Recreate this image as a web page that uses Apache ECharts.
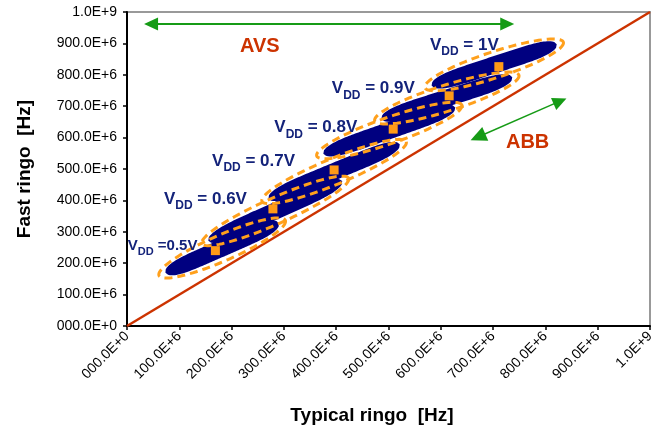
<!DOCTYPE html>
<html><head><meta charset="utf-8">
<script src="https://cdn.jsdelivr.net/npm/echarts@6/dist/echarts.min.js"></script>
<style>html,body{margin:0;padding:0;background:#fff}#c{width:661px;height:431px}</style>
</head><body><div id="c"></div>
<script>
// ---- data ----
const vddLevels = ['0.5V', '0.6V', '0.7V', '0.8V', '0.9V', '1V'];
// orange squares: cluster centres [typical, fast] in Hz
const clusterCenters = [[169e6, 240e6], [279e6, 373e6], [396e6, 497e6], [509e6, 627e6], [616e6, 733e6], [711e6, 826e6]];
// lower-left and upper-right ends of each measured cloud
const streakStart = [[77e6, 172e6], [159e6, 274e6], [274e6, 408e6], [379e6, 551e6], [490e6, 662e6], [586e6, 768e6]];
const streakEnd = [[287e6, 325e6], [408e6, 459e6], [518e6, 576e6], [624e6, 694e6], [733e6, 790e6], [818e6, 895e6]];
// identity reference line
const diagonal = [[0, 0], [1e9, 1e9]];
// axis tick labels
const tickLabels = ['000.0E+0', '100.0E+6', '200.0E+6', '300.0E+6', '400.0E+6', '500.0E+6', '600.0E+6', '700.0E+6', '800.0E+6', '900.0E+6', '1.0E+9'];

// ---- annotation placement (data coordinates) ----
const vddLabelAt = [[68e6, 255e6], [150e6, 404e6], [242e6, 526e6], [361e6, 632e6], [471e6, 757e6], [645e6, 895e6]];
const avsArrow = [[46e6, 962e6], [727e6, 962e6]];
const abbArrow = [[671e6, 602e6], [828e6, 716e6]];
const textNotes = [{ name: 'AVS', value: [254e6, 889e6] }, { name: 'ABB', value: [766e6, 586e6] }];

const FONT = "'Liberation Sans', Arial, sans-serif";
const NAVY = '#000080';
const ORANGE = '#FFA01C';
const RED = '#CC3300';
const GREEN = '#169B16';
const LABEL = '#14237A';

const streakRows = streakStart.map((s, i) => [s[0], s[1], streakEnd[i][0], streakEnd[i][1]]);

function frame(api) {
  const p1 = api.coord([api.value(0), api.value(1)]);
  const p2 = api.coord([api.value(2), api.value(3)]);
  const dx = p2[0] - p1[0], dy = p2[1] - p1[1];
  const L = Math.hypot(dx, dy);
  const ux = dx / L, uy = dy / L;
  return { cx: (p1[0] + p2[0]) / 2, cy: (p1[1] + p2[1]) / 2, ux, uy, nx: -uy, ny: ux, L };
}

function renderStreak(params, api) {
  const f = frame(api);
  const a = f.L / 2 + 2, H = 8.5, N = 80;
  const top = [], bot = [];
  for (let i = 0; i <= N; i++) {
    const s = -1 + 2 * i / N;
    const h = H * Math.sqrt(Math.max(0, 1 - Math.pow(Math.abs(s), 5)));
    const bx = f.cx + f.ux * a * s, by = f.cy + f.uy * a * s;
    top.push([bx + f.nx * h, by + f.ny * h]);
    bot.unshift([bx - f.nx * h, by - f.ny * h]);
  }
  return { type: 'polygon', shape: { points: top.concat(bot) }, style: { fill: NAVY } };
}

function renderEllipse(params, api) {
  const f = frame(api);
  const a = f.L / 2 + 9, b = 13, N = 100;
  const pts = [];
  for (let i = 0; i < N; i++) {
    const t = 2 * Math.PI * i / N;
    const la = a * Math.cos(t), lb = b * Math.sin(t);
    pts.push([f.cx + f.ux * la + f.nx * lb, f.cy + f.uy * la + f.ny * lb]);
  }
  return { type: 'polygon', shape: { points: pts }, style: { fill: 'none', stroke: ORANGE, lineWidth: 3, lineDash: [8, 5] } };
}

function vddText(level, i) {
  if (i === 0) return '{w|V}{t|DD}{w| =' + level + '}';
  return '{v|V}{s|DD}{v| = ' + level + '}';
}

const axisCommon = {
  type: 'value', min: 0, max: 1e9, interval: 1e8,
  axisLine: { show: true, lineStyle: { color: '#000', width: 2 } },
  axisTick: { show: true, length: 4, lineStyle: { color: '#000', width: 1.5 } },
  splitLine: { show: false },
  nameLocation: 'middle',
};

const chart = echarts.init(document.getElementById('c'), null, { renderer: 'canvas' });
chart.setOption({
  animation: false,
  backgroundColor: '#fff',
  grid: { left: 127, right: 11, top: 12, bottom: 105, show: true, borderColor: '#999', borderWidth: 2, containLabel: false, outerBoundsMode: 'none' },
  xAxis: Object.assign({}, axisCommon, {
    name: 'Typical ringo  [Hz]',
    nameGap: 80,
    nameTextStyle: { fontFamily: FONT, fontWeight: 'bold', fontSize: 19, color: '#000', padding: [0, 33, 0, 0] },
    axisLabel: { rotate: 45, margin: 8, fontFamily: FONT, fontSize: 14, color: '#000', formatter: v => tickLabels[Math.round(v / 1e8)] }
  }),
  yAxis: Object.assign({}, axisCommon, {
    name: 'Fast ringo  [Hz]',
    nameGap: 93,
    nameTextStyle: { fontFamily: FONT, fontWeight: 'bold', fontSize: 19, color: '#000' },
    axisLabel: { margin: 10, fontFamily: FONT, fontSize: 14, color: '#000', formatter: v => tickLabels[Math.round(v / 1e8)] }
  }),
  series: [
    {
      type: 'line', data: diagonal, symbol: 'none', z: 1,
      lineStyle: { color: RED, width: 2.5 },
      markLine: {
        silent: true, animation: false,
        symbol: ['triangle', 'triangle'], symbolSize: [13, 14],
        label: { show: false },
        lineStyle: { color: GREEN, width: 2, type: 'solid' },
        emphasis: { disabled: true },
        data: [
          [{ coord: avsArrow[0] }, { coord: avsArrow[1] }],
          [{ coord: abbArrow[0], lineStyle: { width: 1.5, color: GREEN }, symbolSize: [15, 16] }, { coord: abbArrow[1] }]
        ]
      }
    },
    {
      type: 'custom', name: 'clouds', z: 2, silent: true,
      data: streakRows, encode: { x: [0, 2], y: [1, 3] },
      renderItem: renderStreak
    },
    {
      type: 'custom', name: 'ellipses', z: 3, silent: true,
      data: streakRows, encode: { x: [0, 2], y: [1, 3] },
      renderItem: renderEllipse
    },
    {
      type: 'scatter', name: 'centres', z: 4, silent: true,
      data: clusterCenters, symbol: 'rect', symbolSize: 9,
      itemStyle: { color: '#FF9A17', opacity: 1 }
    },
    {
      type: 'scatter', name: 'vdd labels', z: 5, silent: true,
      symbolSize: 1, itemStyle: { color: 'rgba(0,0,0,0)', opacity: 1 },
      data: vddLabelAt.map((p, i) => ({ value: p, name: vddLevels[i], label: { formatter: vddText(vddLevels[i], i) } })),
      label: {
        show: true, position: 'inside', opacity: 1,
        rich: {
          v: { fontFamily: FONT, fontWeight: 'bold', fontSize: 17, color: LABEL, lineHeight: 26 },
          s: { fontFamily: FONT, fontWeight: 'bold', fontSize: 12, color: LABEL, lineHeight: 12, verticalAlign: 'bottom' },
          w: { fontFamily: FONT, fontWeight: 'bold', fontSize: 15, color: LABEL, lineHeight: 24 },
          t: { fontFamily: FONT, fontWeight: 'bold', fontSize: 11, color: LABEL, lineHeight: 11, verticalAlign: 'bottom' }
        }
      }
    },
    {
      type: 'scatter', name: 'notes', z: 5, silent: true,
      symbolSize: 1, itemStyle: { color: 'rgba(0,0,0,0)', opacity: 1 },
      data: textNotes,
      label: { show: true, position: 'inside', opacity: 1, formatter: '{b}', fontFamily: FONT, fontWeight: 'bold', fontSize: 20, color: RED }
    }
  ]
});
</script></body></html>
